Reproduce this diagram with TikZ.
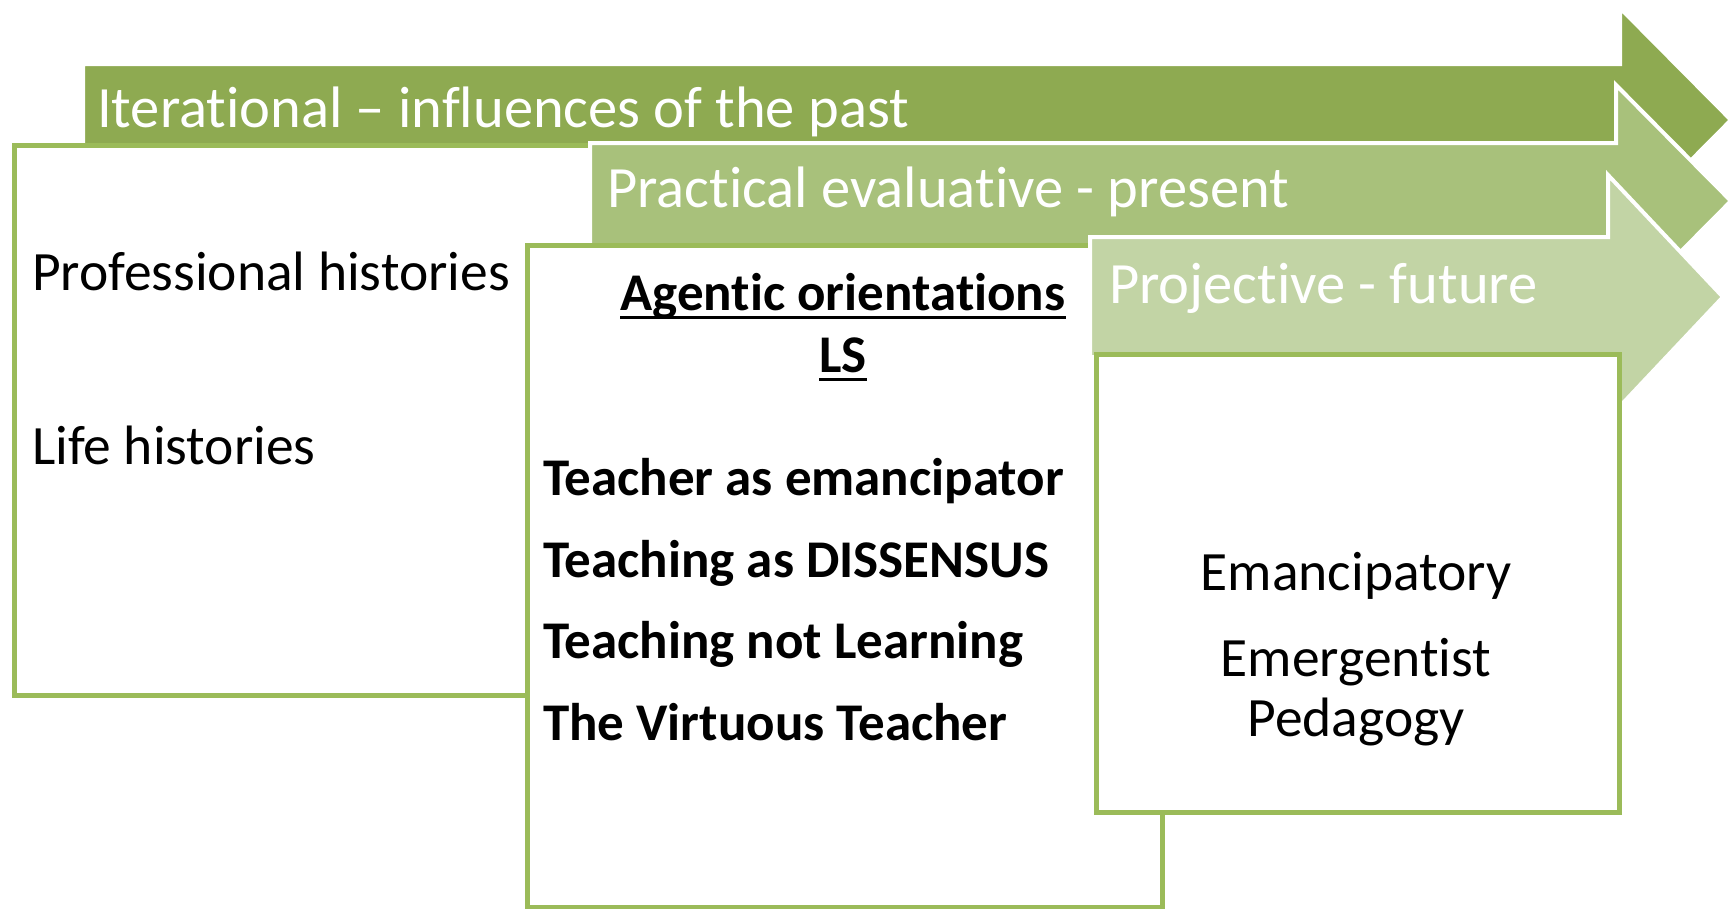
\documentclass[tikz,border=0pt]{standalone}
\usepackage{fontspec}
\setmainfont{Carlito}[Ligatures={NoCommon,NoContextual,NoRequired},Contextuals=NoAlternate]
\newcommand{\zk}{\kern0pt}
\definecolor{arrowA}{HTML}{8EAA51}
\definecolor{arrowB}{HTML}{A8C17B}
\definecolor{arrowC}{HTML}{C2D4A5}
\definecolor{boxgreen}{HTML}{9BBB59}
\begin{document}
\begin{tikzpicture}[x=1pt,y=-1pt,
  arrowshape/.style={draw=white, line width=4pt, line join=miter},
  box/.style={draw=boxgreen, line width=4.5pt, fill=white, anchor=north west, inner sep=0pt},
  hdr/.style={text=white, font=\fontsize{58.5}{70}\selectfont, anchor=base west, inner sep=0pt},
  bodytext/.style={text=black, font=\fontsize{55.5}{66}\selectfont, anchor=base west, inner sep=0pt},
  boldtext/.style={text=black, font=\bfseries\fontsize{53}{62}\selectfont, anchor=base west, inner sep=0pt},
  centertext/.style={text=black, font=\fontsize{55.5}{66}\selectfont, anchor=base, inner sep=0pt},
  ul/.style={line width=3pt, black}]
\useasboundingbox[fill=white] (0,0) rectangle (1735,908);
% arrow 1 (past)
\draw[arrowshape, fill=arrowA] (83,64) -- (1620,64) -- (1620,8) -- (1731,120) -- (1620,232) -- (1620,176) -- (83,176) -- cycle;
\node[hdr] (past) at (97,127) {Iterat\zk ional – inf\zk luences of the past};
% box 1
\node[box, minimum width=588pt, minimum height=550pt] (box1) at (12,143) {};
\node[bodytext] (prof) at (32,290) {Professional histories};
\node[bodytext] (life) at (32,464) {Life histories};
% arrow 2 (present)
\draw[arrowshape, fill=arrowB] (590,143) -- (1616,143) -- (1616,85) -- (1731,201) -- (1616,317) -- (1616,259) -- (590,259) -- cycle;
\node[hdr] (present) at (607,207) {Pract\zk ical evaluat\zk ive - present};
% box 2
\node[box, minimum width=635pt, minimum height=662pt] (box2) at (525,243) {};
\node[boldtext, anchor=base] (agentic) at (843,310) {Agent\zk ic orientat\zk ions};
\draw[ul] ([yshift=-7pt]agentic.base west) -- ([yshift=-7pt]agentic.base east);
\node[boldtext, anchor=base] (ls) at (843,372) {LS};
\draw[ul] ([yshift=-7pt]ls.base west) -- ([yshift=-7pt]ls.base east);
\node[boldtext] (t1) at (543,495) {Teacher as emancipator};
\node[boldtext] (t2) at (543,577) {Teaching as DISSENSUS};
\node[boldtext] (t3) at (543,658) {Teaching not Learning};
\node[boldtext] (t4) at (543,740) {The Virtuous Teacher};
% arrow 3 (future)
\draw[arrowshape, fill=arrowC] (1090,237) -- (1608,237) -- (1608,175) -- (1723,297) -- (1608,419) -- (1608,357) -- (1090,357) -- cycle;
\node[hdr] (future) at (1109,303) {Project\zk ive - future};
% box 3
\node[box, minimum width=523pt, minimum height=458pt] (box3) at (1094,352) {};
\node[centertext] (e1) at (1356,590) {Emancipatory};
\node[centertext] (e2) at (1356,676) {Emergent\zk ist};
\node[centertext] (e3) at (1356,736) {Pedagogy};
\end{tikzpicture}
\end{document}
